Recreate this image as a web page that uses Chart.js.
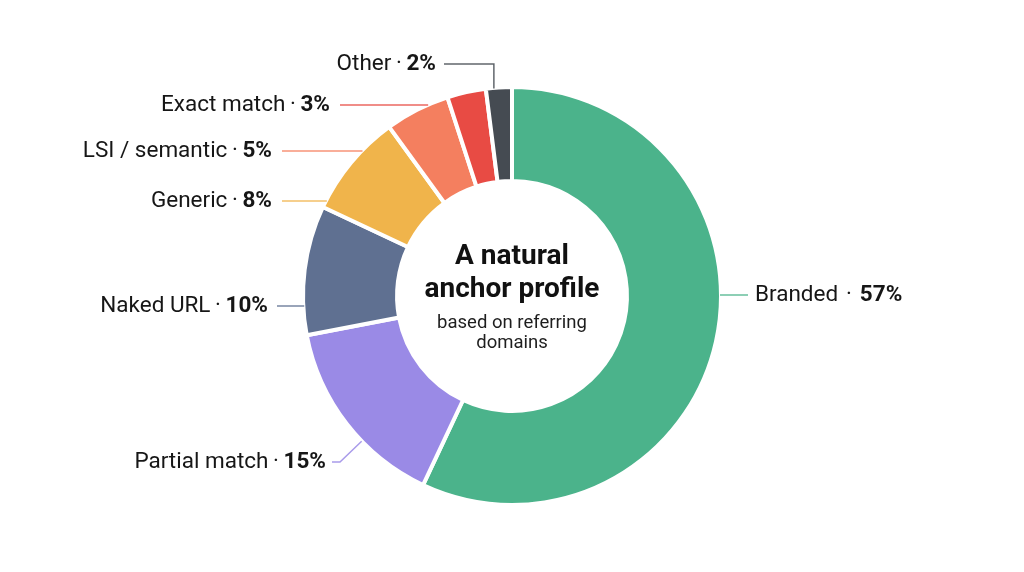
<!DOCTYPE html>
<html>
<head>
<meta charset="utf-8">
<script src="https://cdn.jsdelivr.net/npm/chart.js@4.4.1/dist/chart.umd.min.js"></script>
<style>
  html, body { margin: 0; padding: 0; background: #ffffff; }
  #wrap { width: 1024px; height: 572px; position: relative; }
</style>
</head>
<body>
<div id="wrap"><canvas id="anchorChart" width="1024" height="572"></canvas></div>
<script>
const labels = ['Branded', 'Partial match', 'Naked URL', 'Generic', 'LSI / semantic', 'Exact match', 'Other'];
const shares = [57, 15, 10, 8, 5, 3, 2];
const colors = ['#4bb38b', '#9a8ae6', '#5f7091', '#f0b44b', '#f47f5f', '#e84b44', '#454b52'];
const centerTitle = ['A natural', 'anchor profile'];
const centerSub = ['based on referring', 'domains'];

// where each callout sits (text edge, vertical middle) and how its leader runs
const callouts = [
    { side: 'right', x: 755, y: 295, lineFrom: 748 },
    { side: 'left', x: 326, y: 462, lineFrom: 332, elbow: { x: 340, angle: 226 } },
    { side: 'left', x: 268, y: 306, lineFrom: 277 },
    { side: 'left', x: 272, y: 201, lineFrom: 282 },
    { side: 'left', x: 272, y: 151, lineFrom: 282 },
    { side: 'left', x: 330, y: 105, lineFrom: 340 },
    { side: 'left', x: 436, y: 64, lineFrom: 444, drop: true }
];

const FONT = 'Roboto, "Noto Sans", sans-serif';
const LABEL_SIZE = 22.5;

const calloutPlugin = {
    id: 'callouts',
    afterDatasetsDraw(chart) {
        const ctx = chart.ctx;
        const arcs = chart.getDatasetMeta(0).data;
        const cx = arcs[0].x, cy = arcs[0].y, R = arcs[0].outerRadius;

        ctx.save();
        ctx.lineWidth = 1.5;
        callouts.forEach(function(c, i) {
            const arc = arcs[i];
            ctx.strokeStyle = colors[i];
            ctx.globalAlpha = 0.85;
            ctx.beginPath();
            if (c.side === 'right') {
                const dy = c.y - cy;
                ctx.moveTo(cx + Math.sqrt(R * R - dy * dy) - 1, c.y);
                ctx.lineTo(c.lineFrom, c.y);
            } else if (c.drop) {
                const mid = (arc.startAngle + arc.endAngle) / 2;
                const px = cx + Math.cos(mid) * R;
                const py = cy + Math.sin(mid) * R;
                ctx.moveTo(c.lineFrom, c.y);
                ctx.lineTo(px - 5, c.y);
                ctx.lineTo(px - 5, py + 1);
            } else if (c.elbow) {
                const a = (c.elbow.angle - 90) * Math.PI / 180;
                ctx.moveTo(c.lineFrom, c.y);
                ctx.lineTo(c.elbow.x, c.y);
                ctx.lineTo(cx + Math.cos(a) * R, cy + Math.sin(a) * R);
            } else {
                const dy = c.y - cy;
                ctx.moveTo(c.lineFrom, c.y);
                ctx.lineTo(cx - Math.sqrt(R * R - dy * dy) + 1, c.y);
            }
            ctx.stroke();
            ctx.globalAlpha = 1;

            // text: "Name · NN%" with bold value
            const sep = c.side === 'right' ? ' \u200a\u00b7 \u200a' : '\u2009\u00b7\u2009';
            const nameText = labels[i] + sep;
            const valText = shares[i] + '%';
            ctx.textBaseline = 'middle';
            ctx.fillStyle = '#161616';
            ctx.font = '400 ' + LABEL_SIZE + 'px ' + FONT;
            const wName = ctx.measureText(nameText).width;
            ctx.font = '700 ' + LABEL_SIZE + 'px ' + FONT;
            const wVal = ctx.measureText(valText).width;
            const x0 = c.side === 'right' ? c.x : c.x - wName - wVal;
            ctx.textAlign = 'left';
            ctx.font = '400 ' + LABEL_SIZE + 'px ' + FONT;
            ctx.fillText(nameText, x0, c.y);
            ctx.font = '700 ' + LABEL_SIZE + 'px ' + FONT;
            ctx.fillText(valText, x0 + wName, c.y);
        });

        // centre text
        ctx.textAlign = 'center';
        ctx.textBaseline = 'middle';
        ctx.fillStyle = '#111111';
        ctx.font = '700 28px ' + FONT;
        ctx.fillText(centerTitle[0], cx, cy - 39);
        ctx.fillText(centerTitle[1], cx, cy - 6);
        ctx.fillStyle = '#1e1e1e';
        ctx.font = '400 18.5px ' + FONT;
        ctx.fillText(centerSub[0], cx, cy + 27);
        ctx.fillText(centerSub[1], cx, cy + 47);
        ctx.restore();
    }
};

new Chart(document.getElementById('anchorChart').getContext('2d'), {
    type: 'doughnut',
    data: {
        labels: labels,
        datasets: [{
            data: shares,
            backgroundColor: colors,
            borderColor: '#ffffff',
            borderWidth: 4
        }]
    },
    options: {
        responsive: false,
        animation: false,
        cutout: '55%',
        layout: { padding: { top: 85, bottom: 65, left: 0, right: 0 } },
        plugins: {
            legend: { display: false },
            tooltip: { enabled: false }
        }
    },
    plugins: [calloutPlugin]
});
</script>
</body>
</html>
